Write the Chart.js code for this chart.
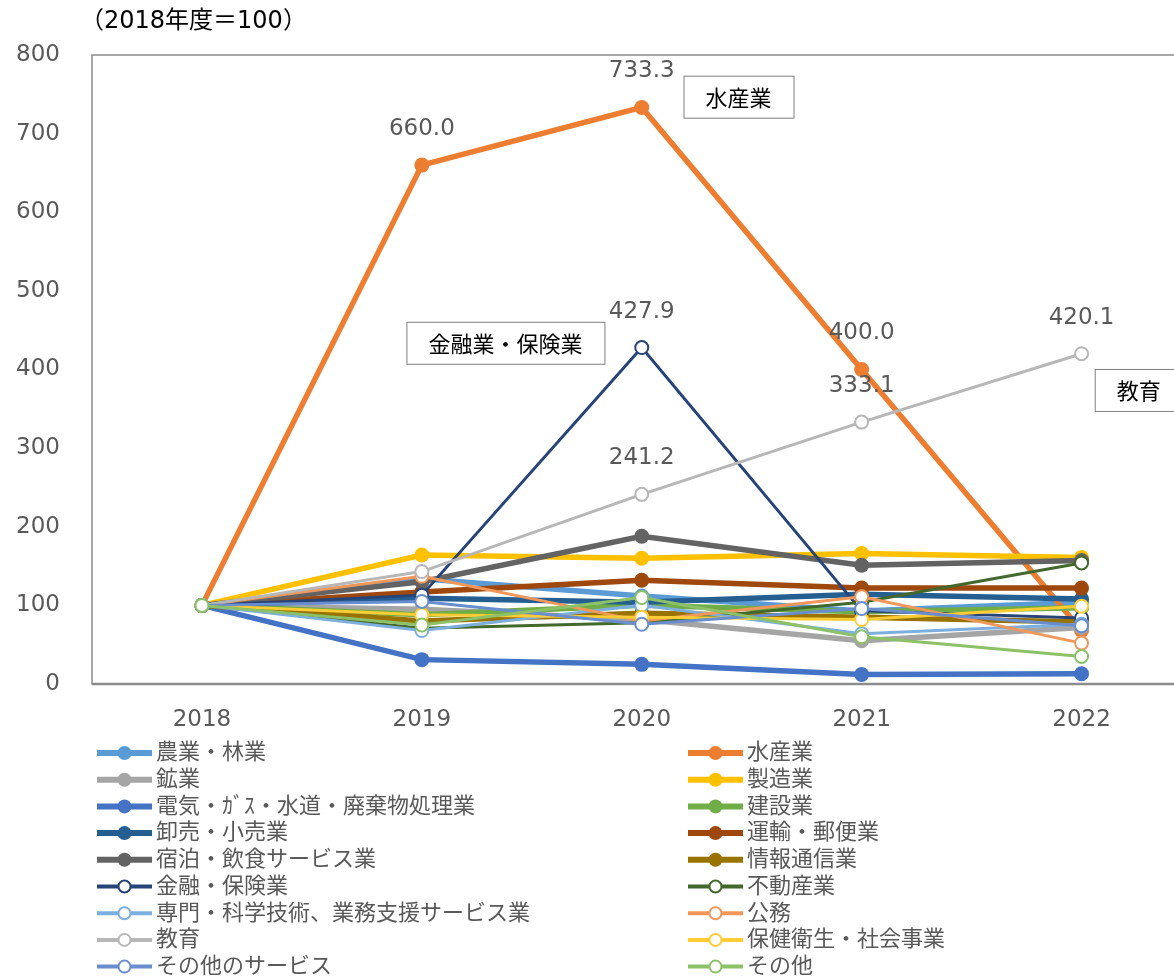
<!DOCTYPE html>
<html>
<head>
<meta charset="utf-8">
<script src="https://cdn.jsdelivr.net/npm/chart.js@4.4.1/dist/chart.umd.min.js"></script>
<style>
  html, body { margin: 0; padding: 0; background: #fff; overflow: hidden; }
  #wrap { position: relative; width: 1200px; height: 979px; }
</style>
</head>
<body>
<div id="wrap"><canvas id="chart"></canvas></div>
<script>
// 年度
const years = ['2018', '2019', '2020', '2021', '2022'];

// 2018年度=100 の指数
const agriculture   = [100, 134, 112, 93, 104];
const fishery       = [100, 660.0, 733.3, 400.0, 68];
const mining        = [100, 95, 82, 55, 72];
const manufacturing = [100, 164, 160, 166, 161];
const utilities     = [100, 31, 25, 12, 13];
const construction  = [100, 88, 100, 92, 97];
const wholesale     = [100, 109, 104, 114, 108];
const transport     = [100, 117, 132, 122, 122];
const hospitality   = [100, 130, 188, 151, 157];
const ictValues     = [100, 80, 90, 85, 79];
const finance       = [100, 113, 427.9, 93, 84];
const realEstate    = [100, 71, 78, 104, 154];
const professional  = [100, 68, 100, 64, 76];
const publicService = [100, 137, 80, 111, 52];
const education     = [100, 143, 241.2, 333.1, 420.1];
const health        = [100, 88, 85, 82, 99];
const otherServices = [100, 105, 76, 96, 74];
const others        = [100, 75, 110, 60, 35];

const names = [
	'農業・林業', '水産業', '鉱業', '製造業', '電気・ｶﾞｽ・水道・廃棄物処理業', '建設業',
	'卸売・小売業', '運輸・郵便業', '宿泊・飲食サービス業', '情報通信業', '金融・保険業', '不動産業',
	'専門・科学技術、業務支援サービス業', '公務', '教育', '保健衛生・社会事業', 'その他のサービス', 'その他'
];
const series = [
	agriculture, fishery, mining, manufacturing, utilities, construction,
	wholesale, transport, hospitality, ictValues, finance, realEstate,
	professional, publicService, education, health, otherServices, others
];
const colors = [
	'#5B9BD5', '#ED7D31', '#A5A5A5', '#FFC000', '#4472C4', '#70AD47',
	'#255E91', '#9E480E', '#636363', '#997300', '#264478', '#43682B',
	'#7CAFDD', '#F1975A', '#B7B7B7', '#FFCD33', '#698ED0', '#8CC168'
];
const firstOpen = 10; // 金融・保険業 以降は白抜きマーカー

// 数値ラベルを付ける点 [系列, 年度]
const valueLabels = [[1, 1], [1, 2], [1, 3], [10, 2], [14, 2], [14, 3], [14, 4]];
// 吹き出し [文字, x(年度位置), y(指数)]
const callouts = [['水産業', 2.44, 747], ['金融業・保険業', 1.38, 434], ['教育', 4.26, 374]];

const textColor = '#595959';
const numFont = '23px "DejaVu Sans", "Noto Sans CJK JP", sans-serif';
const jpFont = '22px "Noto Sans CJK JP", "DejaVu Sans", sans-serif';

const datasets = series.map((data, i) => {
	const open = i >= firstOpen;
	return {
		label: names[i],
		data: data,
		borderColor: colors[i],
		backgroundColor: colors[i],
		borderWidth: open ? 3 : 5.5,
		pointBackgroundColor: open ? '#ffffff' : colors[i],
		pointBorderColor: colors[i],
		pointBorderWidth: open ? 2 : 0,
		pointRadius: open ? 6.5 : 7.5,
		tension: 0,
		order: series.length - i
	};
});

const extras = {
	id: 'extras',
	beforeDatasetsDraw(chart) {
		const { ctx, chartArea: a } = chart;
		ctx.save();
		ctx.strokeStyle = '#8c8c8c';
		ctx.lineWidth = 1.5;
		ctx.strokeRect(a.left, a.top, a.right - a.left, a.bottom - a.top);
		ctx.lineWidth = 2.5;
		ctx.beginPath();
		ctx.moveTo(a.left, a.bottom);
		ctx.lineTo(a.right, a.bottom);
		ctx.stroke();
		ctx.restore();
	},
	afterDatasetsDraw(chart) {
		const { ctx } = chart;
		const xs = chart.scales.x, ys = chart.scales.y;
		ctx.save();
		ctx.fillStyle = textColor;
		ctx.font = numFont;
		ctx.textAlign = 'center';
		ctx.textBaseline = 'middle';
		valueLabels.forEach(([d, i]) => {
			const pt = chart.getDatasetMeta(d).data[i];
			ctx.fillText(chart.data.datasets[d].data[i].toFixed(1), pt.x, pt.y - 36);
		});

		// 吹き出し
		ctx.font = jpFont;
		callouts.forEach(([t, xi, yv]) => {
			const cx = xs.getPixelForValue(xi), cy = ys.getPixelForValue(yv);
			const w = ctx.measureText(t).width + 44, h = 42;
			ctx.fillStyle = '#ffffff';
			ctx.fillRect(cx - w / 2, cy - h / 2, w, h);
			ctx.strokeStyle = '#7f7f7f';
			ctx.lineWidth = 1;
			ctx.strokeRect(cx - w / 2 + 0.5, cy - h / 2 + 0.5, w, h);
			ctx.fillStyle = '#000000';
			ctx.fillText(t, cx, cy + 1);
		});

		// 単位
		ctx.fillStyle = '#000000';
		ctx.textAlign = 'left';
		ctx.font = '24px "DejaVu Sans", "Noto Sans CJK JP", sans-serif';
		ctx.fillText('（2018年度＝100）', 80, 22);

		// 凡例
		chart.data.datasets.forEach((ds, i) => {
			const col = i % 2, row = Math.floor(i / 2);
			const x0 = col ? 688 : 97;
			const y = 753 + row * 26.7;
			const open = i >= firstOpen;
			ctx.strokeStyle = ds.borderColor;
			ctx.lineWidth = open ? 4 : 6;
			ctx.beginPath();
			ctx.moveTo(x0, y);
			ctx.lineTo(x0 + 55, y);
			ctx.stroke();
			ctx.beginPath();
			ctx.arc(x0 + 27.5, y, open ? 6 : 7, 0, Math.PI * 2);
			ctx.fillStyle = open ? '#ffffff' : ds.borderColor;
			ctx.fill();
			if (open) {
				ctx.lineWidth = 2;
				ctx.stroke();
			}
			ctx.fillStyle = textColor;
			ctx.font = jpFont;
			ctx.textBaseline = 'middle';
			ctx.fillText(ds.label, x0 + 59, y - 2);
		});
		ctx.restore();
	}
};

new Chart(document.getElementById('chart'), {
	type: 'line',
	data: { labels: years, datasets: datasets },
	options: {
		responsive: true,
		maintainAspectRatio: false,
		animation: false,
		events: [],
		layout: { padding: { top: 55, right: 8, bottom: 979 - 740, left: 0 } },
		plugins: {
			legend: { display: false },
			tooltip: { enabled: false },
			title: { display: false }
		},
		scales: {
			x: {
				offset: true,
				grid: { display: false, drawTicks: false, offset: true },
				border: { display: false },
				ticks: { color: textColor, font: { family: '"DejaVu Sans", sans-serif', size: 23 }, padding: 22 },
				afterFit(scale) { scale.height = 56; }
			},
			y: {
				min: 0,
				max: 800,
				grid: { display: false, drawTicks: false },
				border: { display: false },
				ticks: { stepSize: 100, color: textColor, font: { family: '"DejaVu Sans", sans-serif', size: 23 }, padding: 32 },
				afterFit(scale) { scale.width = 92; }
			}
		}
	},
	plugins: [extras]
});
</script>
</body>
</html>
